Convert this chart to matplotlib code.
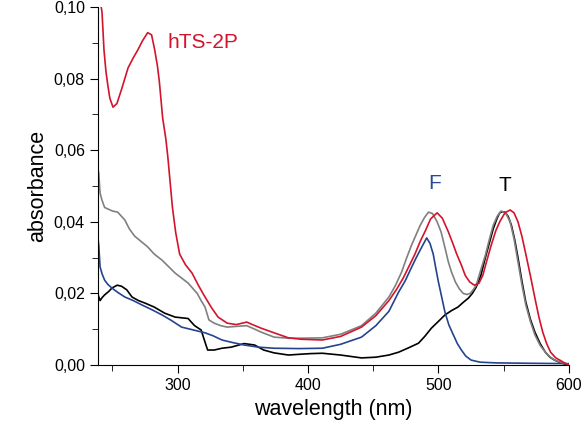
import matplotlib
matplotlib.use('Agg')
import matplotlib.pyplot as plt
from matplotlib.ticker import MultipleLocator, FuncFormatter

plt.rcParams['font.family'] = ['Liberation Sans', 'DejaVu Sans']

# hTS-2P (red)
wl_red = [239, 240.5, 242, 243.5, 245, 246.5, 248, 250.4, 253.4, 257, 262, 266, 269.5, 273, 277, 280,
          282.4, 284.5, 286, 288.5, 291, 292.5, 294.5, 296, 298.5, 301.5, 306, 311, 316, 321, 326, 331,
          338, 345, 353, 358, 364, 374, 385, 395, 411, 425, 441, 452, 462, 468, 473, 478, 482, 486,
          490, 494, 499, 503, 507.6, 511, 514, 517.5, 520.6, 524, 527.5, 531, 534, 537, 540.5, 544,
          547, 551, 555, 558, 561, 564, 567, 570.5, 574, 577, 580, 583, 586, 590, 594, 597, 600]
abs_red = [0.106, 0.102, 0.0985, 0.088, 0.082, 0.078, 0.0745, 0.072, 0.073, 0.077, 0.083, 0.0858,
           0.088, 0.0905, 0.0928, 0.0922, 0.088, 0.0835, 0.079, 0.069, 0.063, 0.058, 0.050, 0.044,
           0.037, 0.031, 0.028, 0.0257, 0.0222, 0.019, 0.016, 0.0134, 0.0117, 0.0113, 0.012, 0.0112,
           0.0103, 0.009, 0.0076, 0.0072, 0.007, 0.008, 0.0106, 0.0138, 0.018, 0.0212, 0.0243,
           0.028, 0.031, 0.0345, 0.0375, 0.0408, 0.0425, 0.041, 0.0372, 0.034, 0.031, 0.028, 0.025,
           0.0232, 0.0223, 0.0228, 0.025, 0.029, 0.0335, 0.0375, 0.040, 0.0425, 0.0433, 0.0425,
           0.040, 0.036, 0.031, 0.025, 0.0187, 0.0135, 0.0092, 0.006, 0.0036, 0.002, 0.0012,
           0.0005, 0.0]

# gray
wl_gray = [239, 239.5, 240.5, 242, 244, 247, 250, 254, 259.5, 263, 267, 272, 277, 282, 288, 293, 298,
           303, 308, 315, 318, 321, 324, 328, 333, 338, 345, 353, 358, 364, 374, 385, 395, 411, 425,
           441, 452, 462, 467, 471.8, 475.5, 479.4, 483, 486, 489.5, 492.4, 495.5, 499, 502, 505,
           507.6, 510, 513, 516, 519, 522, 524.4, 527, 529, 532, 536, 539, 542, 545, 548, 551.5, 555,
           558, 561, 564, 567, 570.5, 574, 578, 582, 585.5, 589, 593, 597, 600]
abs_gray = [0.0545, 0.0536, 0.048, 0.046, 0.044, 0.0435, 0.043, 0.0427, 0.0405, 0.038, 0.036, 0.0345,
            0.033, 0.031, 0.0293, 0.0275, 0.0257, 0.0243, 0.0229, 0.020, 0.018, 0.0162, 0.0126,
            0.0117, 0.011, 0.0106, 0.0108, 0.011, 0.0102, 0.0092, 0.0078, 0.0075, 0.0075, 0.0076,
            0.0086, 0.011, 0.0145, 0.019, 0.0222, 0.026, 0.0298, 0.0335, 0.0365, 0.039, 0.0413,
            0.0427, 0.0423, 0.040, 0.0372, 0.0328, 0.0288, 0.026, 0.0232, 0.0213, 0.020, 0.0197,
            0.020, 0.0212, 0.0223, 0.026, 0.0307, 0.035, 0.039, 0.0415, 0.043, 0.0425, 0.040, 0.0352,
            0.0288, 0.0225, 0.0168, 0.0122, 0.0084, 0.0055, 0.0036, 0.0023, 0.0014, 0.0009, 0.0006,
            0.0]

# F (blue)
wl_blue = [239, 239.5, 240.5, 242, 244, 246.5, 249.6, 254, 259.5, 266, 272.5, 280, 288, 295, 303, 312,
           321, 327, 334, 342, 351, 362, 374, 393, 411, 425, 441, 452, 462, 469.5, 474.5, 479, 483,
           487, 491, 493.5, 496, 498, 500, 502.5, 505, 508, 511.5, 514.5, 517.6, 521, 525, 532, 545,
           570, 600]
abs_blue = [0.035, 0.0335, 0.0274, 0.0255, 0.0237, 0.0225, 0.0215, 0.0203, 0.019, 0.018, 0.0168,
            0.0155, 0.014, 0.0125, 0.0106, 0.0098, 0.009, 0.0082, 0.007, 0.0063, 0.0056, 0.005,
            0.0047, 0.0046, 0.0047, 0.0058, 0.0078, 0.011, 0.015, 0.0204, 0.0235, 0.027, 0.030,
            0.0328, 0.0355, 0.034, 0.031, 0.027, 0.0232, 0.019, 0.0148, 0.0112, 0.0084, 0.006,
            0.0042, 0.0025, 0.0014, 0.0008, 0.0006, 0.0005, 0.0004]

# T (black)
wl_black = [239, 240.5, 242, 244, 247, 249.6, 253.6, 257, 261, 265, 270, 275, 282, 290, 298, 308, 313,
            318, 321, 323, 328, 334, 341, 351, 359, 366, 374, 385, 393, 402, 411, 425, 441, 452, 462,
            469.5, 477, 484.7, 489.5, 494.6, 500, 505, 510, 515, 519, 523, 526, 529, 532.5, 536, 539,
            542, 545, 547, 549, 551, 553.5, 556, 558.5, 561, 564, 567, 570.5, 574, 578, 582, 585.5,
            589, 594, 600]
abs_black = [0.0196, 0.018, 0.0188, 0.0196, 0.0205, 0.0215, 0.0223, 0.022, 0.021, 0.019, 0.018,
             0.0173, 0.0162, 0.0145, 0.0134, 0.013, 0.011, 0.0098, 0.0064, 0.0042, 0.0042, 0.0047,
             0.005, 0.006, 0.0056, 0.0042, 0.0034, 0.0028, 0.003, 0.0032, 0.0033, 0.0028, 0.002,
             0.0022, 0.0028, 0.0036, 0.0048, 0.0061, 0.008, 0.0103, 0.0122, 0.014, 0.0152, 0.0162,
             0.0175, 0.0187, 0.020, 0.0218, 0.025, 0.030, 0.034, 0.038, 0.041, 0.0425, 0.0428,
             0.0427, 0.0415, 0.039, 0.035, 0.030, 0.0235, 0.0176, 0.0128, 0.0092, 0.006, 0.0036,
             0.0022, 0.0014, 0.0006, 0.0]

fig = plt.figure(figsize=(5.84, 4.30), dpi=100)
ax = fig.add_axes([0.168, 0.151, 0.806, 0.833])

ax.plot(wl_black, abs_black, color='black', lw=1.2)
ax.plot(wl_blue, abs_blue, color='#24448f', lw=1.2)
ax.plot(wl_gray, abs_gray, color='#808080', lw=1.2)
ax.plot(wl_red, abs_red, color='#d2142c', lw=1.2)

ax.text(292, 0.090, 'hTS-2P', color='#d2142c', fontsize=15, ha='left', va='center')
ax.text(497, 0.0506, 'F', color='#2a4a96', fontsize=15, ha='center', va='center')
ax.text(551, 0.050, 'T', color='black', fontsize=15, ha='center', va='center')

ax.set_xlim(239, 600)
ax.set_ylim(0, 0.10)
ax.spines['top'].set_visible(False)
ax.spines['right'].set_visible(False)
ax.xaxis.set_major_locator(MultipleLocator(100))
ax.xaxis.set_minor_locator(MultipleLocator(50))
ax.yaxis.set_major_locator(MultipleLocator(0.02))
ax.yaxis.set_minor_locator(MultipleLocator(0.01))
ax.yaxis.set_major_formatter(FuncFormatter(lambda v, p: ('%.2f' % v).replace('.', ',')))
ax.tick_params(which='major', length=6, labelsize=11.5, direction='out')
ax.tick_params(which='minor', length=4, direction='out')
ax.set_xlabel('wavelength (nm)', fontsize=15.5)
ax.set_ylabel('absorbance', fontsize=15.5)

fig.savefig('out.png', dpi=100)
